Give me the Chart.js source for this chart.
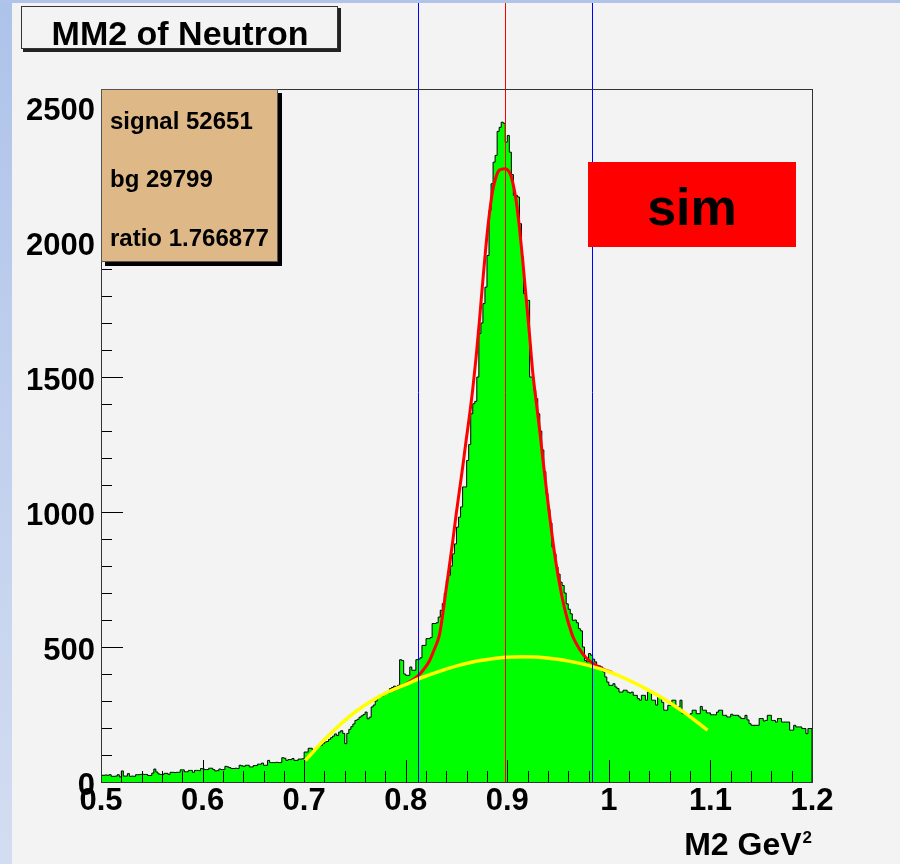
<!DOCTYPE html>
<html>
<head>
<meta charset="utf-8">
<title>MM2 of Neutron</title>
<script src="https://cdn.jsdelivr.net/npm/chart.js@4.4.1/dist/chart.umd.min.js"></script>
<style>
  html, body { margin: 0; padding: 0; background: #f3f3f3; }
  canvas { display: block; }
</style>
</head>
<body>
<canvas id="mm2" width="900" height="864"></canvas>
<script>
// Missing-mass-squared histogram: 350 bins of 0.002 GeV^2 from 0.5 to 1.2
const xMin = 0.5;
const xMax = 1.2;
const binWidth = 0.002;

const counts = [
  25, 25, 26, 25, 27, 21, 21, 22, 27, 19,
  41, 22, 22, 31, 21, 22, 21, 27, 27, 28,
  29, 28, 28, 24, 24, 33, 48, 37, 30, 28,
  28, 32, 32, 28, 36, 36, 35, 36, 36, 45,
  45, 38, 38, 43, 43, 36, 43, 43, 42, 50,
  48, 46, 46, 51, 51, 46, 41, 42, 48, 46,
  46, 58, 56, 53, 50, 50, 51, 50, 62, 60,
  58, 62, 62, 56, 56, 61, 61, 66, 66, 70,
  62, 62, 80, 72, 72, 72, 73, 72, 72, 90,
  88, 80, 83, 83, 87, 80, 80, 85, 85, 86,
  111, 111, 125, 125, 118, 118, 128, 132, 135, 142,
  148, 150, 158, 164, 170, 178, 172, 185, 190, 180,
  142, 180, 195, 205, 215, 228, 232, 240, 245, 250,
  259, 234, 240, 278, 285, 300, 315, 321, 318, 328,
  333, 330, 346, 350, 355, 352, 358, 453, 450, 400,
  395, 395, 426, 414, 414, 453, 455, 460, 506, 506,
  531, 531, 535, 587, 587, 590, 611, 636, 661, 700,
  747, 766, 800, 845, 882, 944, 981, 1019, 1093, 1093,
  1191, 1250, 1364, 1401, 1410, 1500, 1661, 1700, 1772, 1833,
  1950, 2117, 2216, 2296, 2321, 2410, 2425, 2444, 2440, 2370,
  2395, 2333, 2250, 2173, 2173, 2167, 2068, 1945, 1809, 1784,
  1784, 1500, 1500, 1451, 1420, 1364, 1300, 1230, 1150, 1068,
  1010, 960, 870, 845, 796, 770, 740, 728, 700, 660,
  640, 623, 599, 600, 590, 568, 560, 500, 450, 445,
  476, 470, 455, 445, 432, 430, 426, 408, 389, 370,
  358, 358, 364, 352, 346, 333, 333, 340, 340, 333,
  330, 333, 321, 321, 309, 303, 321, 321, 303, 333,
  333, 303, 303, 285, 315, 315, 295, 266, 266, 284,
  284, 303, 303, 278, 278, 303, 253, 253, 247, 247,
  253, 266, 266, 253, 253, 280, 266, 266, 256, 256,
  249, 249, 249, 259, 266, 266, 247, 247, 241, 241,
  251, 247, 247, 247, 241, 235, 235, 247, 230, 216,
  210, 210, 210, 210, 235, 235, 226, 228, 247, 247,
  228, 228, 222, 235, 235, 222, 222, 222, 222, 192,
  192, 210, 204, 204, 204, 198, 198, 179, 198, 198
];

// Signal + background fit (red)
const sigFitX = [0.787, 0.8004, 0.8118, 0.8167, 0.8233, 0.8282, 0.8332, 0.8364, 0.8397, 0.843,
  0.8463, 0.8496, 0.8529, 0.8561, 0.8594, 0.8627, 0.866, 0.8693, 0.8725, 0.8758,
  0.8791, 0.8824, 0.8856, 0.8889, 0.8922, 0.8978, 0.902, 0.9053, 0.9087, 0.9119,
  0.9152, 0.9185, 0.9218, 0.925, 0.9283, 0.9316, 0.9348, 0.9382, 0.9414, 0.9447,
  0.948, 0.9513, 0.9545, 0.9578, 0.9611, 0.9644, 0.971, 0.9776, 0.9843, 0.9907,
  0.9939, 1.0037];
const sigFitY = [338, 364, 392, 412, 448, 492, 545, 620, 712, 800,
  892, 990, 1080, 1167, 1263, 1355, 1455, 1574, 1705, 1852,
  1990, 2105, 2190, 2241, 2267, 2272, 2259, 2222, 2154, 2056,
  1932, 1796, 1661, 1520, 1414, 1312, 1204, 1095, 994, 897,
  810, 737, 675, 622, 578, 540, 493, 460, 440, 424,
  418, 405];

// Background fit (yellow)
const bgFitX = [0.7013, 0.7183, 0.7347, 0.7512, 0.7675, 0.784, 0.8004, 0.8167, 0.8332, 0.8496,
  0.8693, 0.8824, 0.8988, 0.915, 0.9283, 0.9644, 0.9907, 1.0037, 1.0202, 1.0366,
  1.053, 1.0694, 1.0825, 1.0972];
const bgFitY = [80, 150, 210, 262, 303, 336, 362, 388, 410, 429,
  447, 455, 462, 464, 463, 445, 420, 403, 376, 345,
  310, 270, 235, 192];

// Fitted peak position and the signal window
const peakMean = 0.898;
const windowLow = 0.8125;
const windowHigh = 0.9835;

const xTickValues = [0.5, 0.6, 0.7, 0.8, 0.9, 1.0, 1.1, 1.2];
const xTickLabels = ['0.5', '0.6', '0.7', '0.8', '0.9', '1', '1.1', '1.2'];
const yTickValues = [0, 500, 1000, 1500, 2000, 2500];
const yTickLabels = ['0', '500', '1000', '1500', '2000', '2500'];
const yMax = 2567;

const titleText = 'MM2 of Neutron';
const statsLines = ['signal 52651', 'bg 29799', 'ratio 1.766877'];
const tagText = 'sim';
const axisTitle = 'M2 GeV';
const axisTitleSup = '2';

const FONT = "'Liberation Sans', Arial, Helvetica, sans-serif";

// Step outline: points at the left edge of every bin, closed down to zero at both ends
const histPoints = [{ x: xMin, y: 0 }];
counts.forEach((c, i) => histPoints.push({ x: xMin + i * binWidth, y: c }));
histPoints.push({ x: xMax, y: counts[counts.length - 1] });
histPoints.push({ x: xMax, y: 0 });

const sigPoints = sigFitX.map((x, i) => ({ x, y: sigFitY[i] }));
const bgPoints = bgFitX.map((x, i) => ({ x, y: bgFitY[i] }));

const decor = {
  id: 'decor',
  beforeDraw(chart) {
    const { ctx, width, height } = chart;
    ctx.save();
    ctx.fillStyle = '#f3f3f3';
    ctx.fillRect(0, 0, width, height);
    const g = ctx.createLinearGradient(0, 0, 0, height);
    g.addColorStop(0, '#aec3ea');
    g.addColorStop(1, '#d3ddf1');
    ctx.fillStyle = g;
    ctx.fillRect(0, 0, 12, height);
    ctx.fillStyle = '#b0c4ea';
    ctx.fillRect(0, 0, width, 3);
    ctx.restore();
  },
  afterDatasetsDraw(chart) {
    const { ctx, chartArea: a } = chart;
    const xs = chart.scales.x, ys = chart.scales.y;
    ctx.save();
    ctx.lineWidth = 1;

    // peak and window markers
    const vline = (v, color) => {
      const px = Math.round(xs.getPixelForValue(v)) + 0.5;
      ctx.strokeStyle = color;
      ctx.beginPath();
      ctx.moveTo(px, 3);
      ctx.lineTo(px, a.bottom);
      ctx.stroke();
    };
    vline(windowLow, '#0000ff');
    vline(windowHigh, '#0000ff');
    vline(peakMean, '#ff0000');

    // inward tick marks
    ctx.strokeStyle = '#000';
    ctx.beginPath();
    for (let k = 0; k <= 35; k++) {
      const px = Math.round(xs.getPixelForValue(xMin + k * 0.02)) + 0.5;
      const len = k % 5 === 0 ? 22 : 11;
      ctx.moveTo(px, a.bottom);
      ctx.lineTo(px, a.bottom - len);
    }
    for (let k = 0; k <= 25; k++) {
      const py = Math.round(ys.getPixelForValue(k * 100)) + 0.5;
      const len = k % 5 === 0 ? 22 : 11;
      ctx.moveTo(a.left, py);
      ctx.lineTo(a.left + len, py);
    }
    ctx.stroke();

    // frame
    ctx.strokeStyle = '#333';
    ctx.strokeRect(a.left + 0.5, a.top + 0.5, a.right - a.left, a.bottom - a.top);
    ctx.restore();
  },
  afterDraw(chart) {
    const { ctx, chartArea: a } = chart;
    const ys = chart.scales.y;
    ctx.save();

    // y tick labels, sitting slightly below their ticks
    ctx.fillStyle = '#000';
    ctx.font = 'bold 31px ' + FONT;
    ctx.textAlign = 'right';
    ctx.textBaseline = 'middle';
    ys.ticks.forEach((t, i) => {
      ctx.fillText(yTickLabels[i], a.left - 6, ys.getPixelForValue(t.value) + 4);
    });
    ctx.textBaseline = 'alphabetic';

    // title box
    ctx.fillStyle = '#222';
    ctx.fillRect(23, 8, 318, 44);
    ctx.fillStyle = '#f3f3f3';
    ctx.fillRect(21, 6, 317, 43);
    ctx.strokeStyle = '#333';
    ctx.lineWidth = 1;
    ctx.strokeRect(21.5, 6.5, 316, 42);
    ctx.fillStyle = '#000';
    ctx.font = 'bold 34px ' + FONT;
    ctx.textAlign = 'center';
    ctx.fillText(titleText, 180, 45);

    // statistics box
    ctx.fillStyle = '#000';
    ctx.fillRect(105, 93, 177, 173);
    ctx.fillStyle = '#deb887';
    ctx.fillRect(101, 89, 177, 173);
    ctx.strokeStyle = '#555';
    ctx.strokeRect(101.5, 89.5, 176, 172);
    ctx.fillStyle = '#000';
    ctx.font = 'bold 24px ' + FONT;
    ctx.textAlign = 'left';
    const baselines = [129, 187, 246];
    statsLines.forEach((t, i) => ctx.fillText(t, 110, baselines[i]));

    // sample tag
    ctx.fillStyle = '#ff0000';
    ctx.fillRect(588, 162, 208, 85);
    ctx.fillStyle = '#000';
    ctx.font = 'bold 52px ' + FONT;
    ctx.textAlign = 'center';
    ctx.fillText(tagText, 692, 225);

    // x axis title with superscript
    ctx.textAlign = 'right';
    ctx.font = 'bold 17px ' + FONT;
    const supW = ctx.measureText(axisTitleSup).width;
    ctx.fillText(axisTitleSup, 812, 843);
    ctx.font = 'bold 32px ' + FONT;
    ctx.fillText(axisTitle, 812 - supW - 1, 855);
    ctx.restore();
  }
};

const tickFont = { family: FONT, size: 31, weight: 'bold', lineHeight: 1 };

new Chart(document.getElementById('mm2'), {
  type: 'line',
  data: {
    datasets: [
      {
        label: 'background fit',
        data: bgPoints,
        borderColor: '#ffff00',
        borderWidth: 3.5,
        pointRadius: 0,
        fill: false,
        cubicInterpolationMode: 'monotone',
        order: 1
      },
      {
        label: 'signal + background fit',
        data: sigPoints,
        borderColor: '#ff0000',
        borderWidth: 3,
        pointRadius: 0,
        fill: false,
        cubicInterpolationMode: 'monotone',
        order: 2
      },
      {
        label: 'MM2',
        data: histPoints,
        stepped: 'before',
        borderColor: '#000000',
        borderWidth: 1,
        backgroundColor: '#00ff00',
        fill: 'origin',
        pointRadius: 0,
        order: 3
      }
    ]
  },
  options: {
    responsive: false,
    animation: false,
    devicePixelRatio: 1,
    layout: { padding: { left: 11, right: 88, top: 89, bottom: 22 } },
    plugins: { legend: { display: false }, tooltip: { enabled: false } },
    scales: {
      x: {
        type: 'linear',
        min: xMin,
        max: xMax,
        afterBuildTicks: s => { s.ticks = xTickValues.map(v => ({ value: v })); },
        afterFit: s => { s.height = 60; },
        grid: { display: false, drawTicks: false },
        border: { display: false },
        ticks: {
          color: '#000',
          font: tickFont,
          padding: 4,
          maxRotation: 0,
          autoSkip: false,
          callback: (v, i) => xTickLabels[i]
        }
      },
      y: {
        type: 'linear',
        min: 0,
        max: yMax,
        afterBuildTicks: s => { s.ticks = yTickValues.map(v => ({ value: v })); },
        afterFit: s => { s.width = 90; },
        grid: { display: false, drawTicks: false },
        border: { display: false },
        ticks: { display: false }
      }
    }
  },
  plugins: [decor]
});
</script>
</body>
</html>
